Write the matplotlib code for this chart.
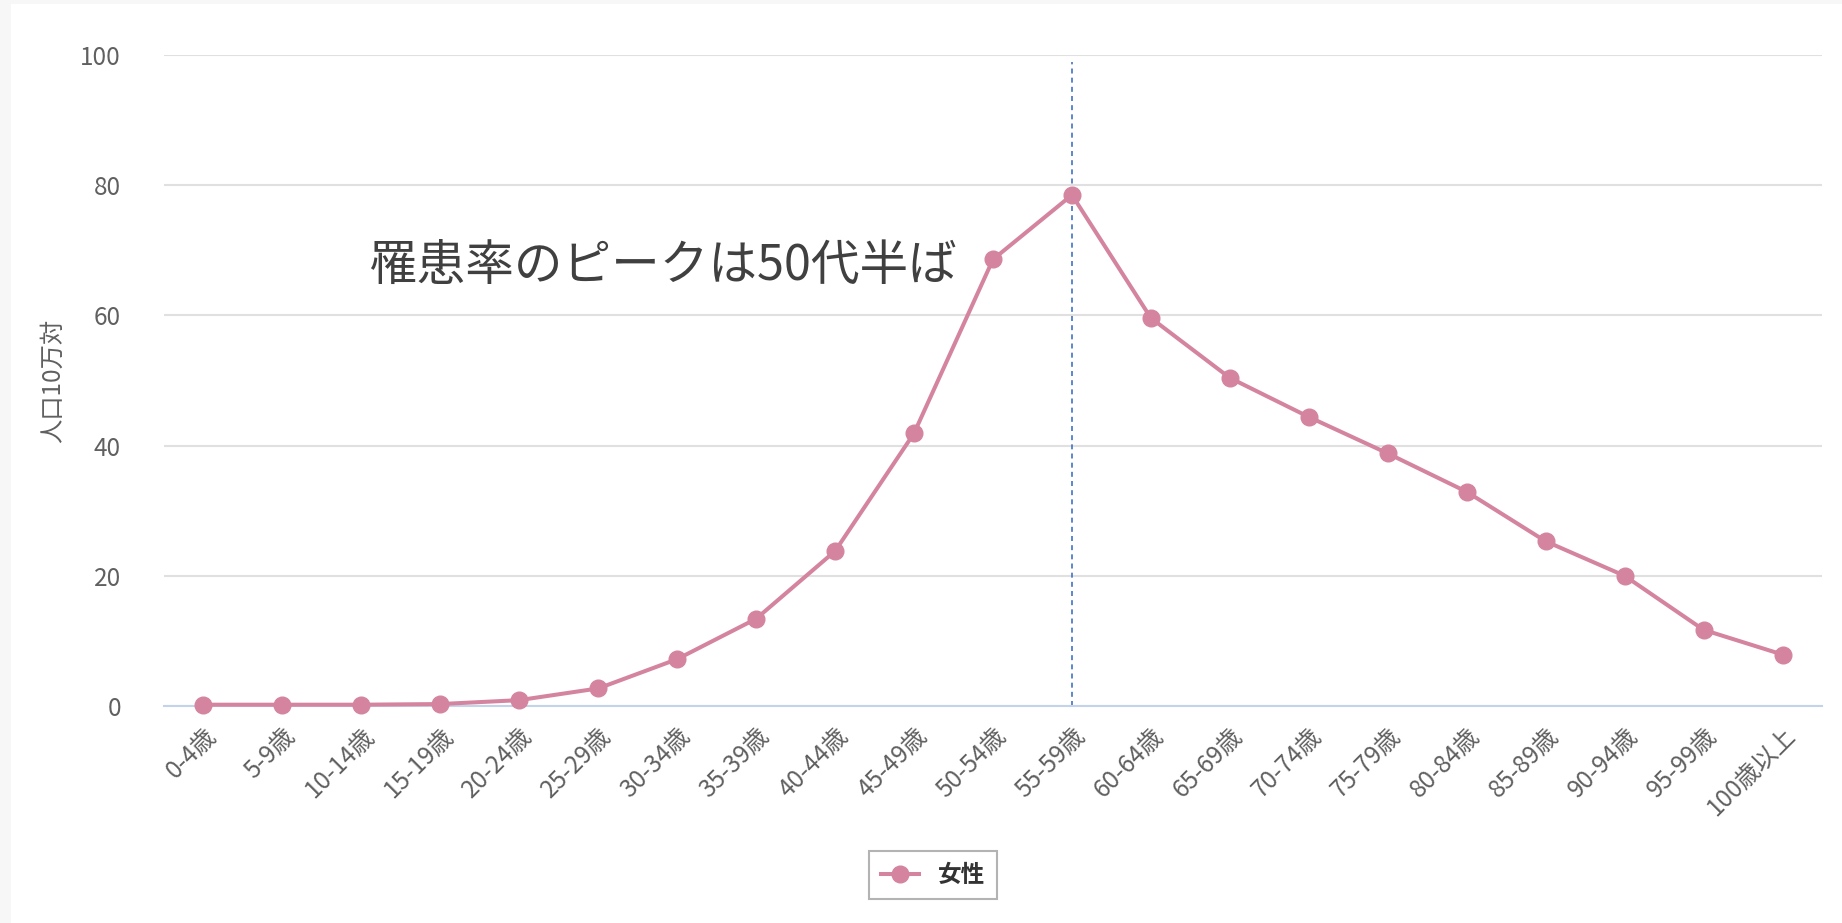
import matplotlib
matplotlib.use("Agg")
import matplotlib.pyplot as plt
from matplotlib.patches import Rectangle

plt.rcParams['font.family'] = ['Noto Sans CJK JP', 'DejaVu Sans']

age_groups = ["0-4歳", "5-9歳", "10-14歳", "15-19歳", "20-24歳", "25-29歳",
              "30-34歳", "35-39歳", "40-44歳", "45-49歳", "50-54歳", "55-59歳",
              "60-64歳", "65-69歳", "70-74歳", "75-79歳", "80-84歳", "85-89歳",
              "90-94歳", "95-99歳", "100歳以上"]
female = [0.2, 0.2, 0.2, 0.3, 0.9, 2.7, 7.2, 13.4, 23.8, 41.9, 68.6, 78.5,
          59.6, 50.4, 44.4, 38.8, 32.9, 25.3, 20.0, 11.7, 7.9]
peak_group = "55-59歳"
y_ticks = [0, 20, 40, 60, 80, 100]
note = "罹患率のピークは50代半ば"

fig = plt.figure(figsize=(18.42, 9.23), dpi=100, facecolor="#f7f7f7")
fig.patches.append(Rectangle((11 / 1842, 0), 1, 1 - 4 / 923, transform=fig.transFigure,
                             facecolor="white", edgecolor="none", zorder=-10))

ax = fig.add_axes([164 / 1842, 1 - 706 / 923, (1822 - 164) / 1842, (706 - 55) / 923])
ax.set_facecolor("white")

x = list(range(len(age_groups)))
line, = ax.plot(x, female, color="#d4849f", lw=2.9, marker="o", markersize=12,
                label="女性", zorder=3, clip_on=False)

peak_x = age_groups.index(peak_group)
ax.plot([peak_x, peak_x], [0, 99], color="#4472c4", lw=1.2, ls=(0, (3, 2.5)), zorder=2)

ax.set_xlim(-0.5, len(age_groups) - 0.5)
ax.set_ylim(0, 100)
ax.set_yticks(y_ticks)
ax.set_xticks(x)
ax.set_xticklabels(age_groups, rotation=45, ha="right", rotation_mode="anchor")
ax.tick_params(axis="both", length=0, labelsize=17.5, colors="#606060")
ax.tick_params(axis="x", pad=12)
ax.tick_params(axis="y", pad=31)
ax.grid(axis="y", color="#e0e0e0", lw=1.5)
ax.set_axisbelow(True)
for s in ["top", "right", "left"]:
    ax.spines[s].set_visible(False)
ax.spines["bottom"].set_color("#c5d3ea")
ax.spines["bottom"].set_linewidth(1.5)

ax.set_ylabel("人口10万対", fontsize=17.5, color="#606060", labelpad=10)

ax.text(368 / 1842, 1 - 266 / 923, note, transform=fig.transFigure, fontsize=35,
        color="#404040", va="center", ha="left")

leg = fig.legend(handles=[line], loc="center", bbox_to_anchor=(933 / 1842, 1 - 875 / 923),
                 frameon=True, fancybox=False, edgecolor="#a0a0a0",
                 handlelength=1.6, borderpad=0.5, handletextpad=0.8,
                 prop={"weight": "bold", "size": 17})
leg.get_frame().set_linewidth(1.5)
for t in leg.get_texts():
    t.set_color("#333333")

fig.savefig("out.png", dpi=100, facecolor=fig.get_facecolor())
